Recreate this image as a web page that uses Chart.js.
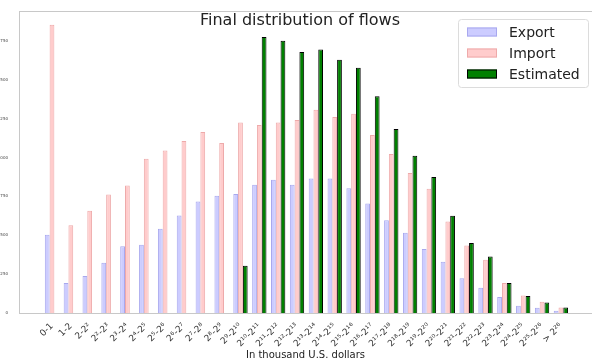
<!DOCTYPE html>
<html>
<head>
<meta charset="utf-8">
<script src="https://cdn.jsdelivr.net/npm/chart.js@4.4.0/dist/chart.umd.min.js"></script>
<style>
body { margin: 0; background: #fff; }
#wrap { width: 592px; height: 361px; }
</style>
</head>
<body>
<div id="wrap"><canvas id="flowChart" width="592" height="361"></canvas></div>
<script>
const binLabels = ["0-1", "1-2", "2-2²", "2²-2³", "2³-2⁴", "2⁴-2⁵", "2⁵-2⁶", "2⁶-2⁷", "2⁷-2⁸", "2⁸-2⁹",
    "2⁹-2¹⁰", "2¹⁰-2¹¹", "2¹¹-2¹²", "2¹²-2¹³", "2¹³-2¹⁴", "2¹⁴-2¹⁵", "2¹⁵-2¹⁶", "2¹⁶-2¹⁷", "2¹⁷-2¹⁸",
    "2¹⁸-2¹⁹", "2¹⁹-2²⁰", "2²⁰-2²¹", "2²¹-2²²", "2²²-2²³", "2²³-2²⁴", "2²⁴-2²⁵", "2²⁵-2²⁶", "> 2²⁶"];

const exportValues = [504, 193, 238, 324, 429, 439, 542, 628, 718, 755, 766, 825, 858, 825, 866, 866, 802, 705,
    596, 517, 412, 330, 223, 163, 103, 47, 34, 15];
const importValues = [1855, 564, 658, 763, 821, 993, 1046, 1107, 1164, 1094, 1226, 1209, 1226, 1242, 1308, 1261,
    1282, 1145, 1023, 901, 800, 589, 435, 343, 193, 113, 73, 36];
const estimatedValues = [0, 0, 0, 0, 0, 0, 0, 0, 0, 0, 304, 1776, 1752, 1679, 1696, 1630, 1578, 1394, 1184, 1012,
    875, 626, 450, 364, 193, 109, 68, 36];

const yTicks = [0, 250, 500, 750, 1000, 1250, 1500, 1750];
const chartTitle = "Final distribution of flows";
const xTitle = "In thousand U.S. dollars";
const fontFamily = "'DejaVu Sans', sans-serif";

function toPoints(values) {
    return values.map((v, i) => ({ x: i, y: v }));
}

// title and boxed legend sit inside the plot area like matplotlib does
var decorPlugin = {
    id: 'decor',
    beforeDraw(chart) {
        const ctx = chart.ctx;
        ctx.save();
        ctx.fillStyle = '#fff';
        ctx.fillRect(0, 0, chart.width, chart.height);
        ctx.restore();
    },
    afterDatasetsDraw(chart) {
        const ctx = chart.ctx;
        ctx.save();
        ctx.fillStyle = '#222';
        ctx.font = "16px " + fontFamily;
        ctx.textAlign = 'center';
        ctx.textBaseline = 'middle';
        ctx.fillText(chartTitle, 300, 21);

        // legend box
        ctx.beginPath();
        ctx.roundRect(458.5, 19.5, 130, 68, 3);
        ctx.fillStyle = 'rgba(255,255,255,0.85)';
        ctx.fill();
        ctx.strokeStyle = '#dcdcdc';
        ctx.lineWidth = 1;
        ctx.stroke();

        const rowY = [32, 53, 74];
        ctx.font = "14px " + fontFamily;
        ctx.textAlign = 'left';
        chart.data.datasets.forEach((ds, i) => {
            ctx.fillStyle = '#fff';
            ctx.fillRect(467, rowY[i] - 4.5, 30, 9);
            ctx.fillStyle = ds.backgroundColor;
            ctx.fillRect(467, rowY[i] - 4.5, 30, 9);
            ctx.strokeStyle = ds.borderColor;
            ctx.strokeRect(467.5, rowY[i] - 4, 29, 8);
            ctx.fillStyle = '#222';
            ctx.fillText(ds.label, 509, rowY[i] + 1);
        });
        ctx.restore();
    }
};

var flowChart = new Chart(document.getElementById('flowChart'), {
    type: 'bar',
    data: {
        datasets: [{
            label: "Export",
            data: toPoints(exportValues),
            backgroundColor: "#ccccff",
            borderColor: "#a8a8ee",
            borderWidth: 1,
            xAxisID: 'x'
        }, {
            label: "Import",
            data: toPoints(importValues),
            backgroundColor: "#ffcccc",
            borderColor: "#eeaaaa",
            borderWidth: 1,
            xAxisID: 'x'
        }, {
            label: "Estimated",
            data: toPoints(estimatedValues),
            backgroundColor: "#008000",
            borderColor: "#000000",
            borderWidth: 1,
            xAxisID: 'x'
        }]
    },
    options: {
        responsive: false,
        animation: false,
        devicePixelRatio: 1,
        categoryPercentage: 0.76,
        barPercentage: 1.0,
        layout: { padding: 0 },
        plugins: {
            legend: { display: false },
            title: { display: false },
            tooltip: { enabled: false }
        },
        scales: {
            x: {
                type: 'linear',
                offset: false,
                min: -1.75,
                max: 28.65,
                afterBuildTicks: s => { s.ticks = binLabels.map((l, i) => ({ value: i })); },
                ticks: {
                    callback: v => binLabels[v],
                    autoSkip: false,
                    maxRotation: 45,
                    minRotation: 45,
                    padding: 0,
                    color: '#333',
                    font: { family: fontFamily, size: 9 }
                },
                grid: { display: false },
                border: { color: '#c8c8c8' },
                title: {
                    display: true,
                    text: xTitle,
                    color: '#222',
                    padding: 0,
                    font: { family: fontFamily, size: 10 }
                },
                afterFit: s => { s.height = 48; }
            },
            x2: {
                type: 'linear',
                position: 'top',
                offset: false,
                min: 0,
                max: 1,
                ticks: { display: false },
                grid: { display: false },
                border: { color: '#c8c8c8' },
                afterFit: s => { s.height = 11; }
            },
            y: {
                min: 0,
                max: 1943,
                afterBuildTicks: s => { s.ticks = yTicks.map(v => ({ value: v })); },
                ticks: {
                    padding: 3,
                    color: '#444',
                    font: { family: fontFamily, size: 4 }
                },
                grid: { display: false },
                border: { color: '#c8c8c8' },
                afterFit: s => { s.width = 19; }
            }
        }
    },
    plugins: [decorPlugin]
});
</script>
</body>
</html>
